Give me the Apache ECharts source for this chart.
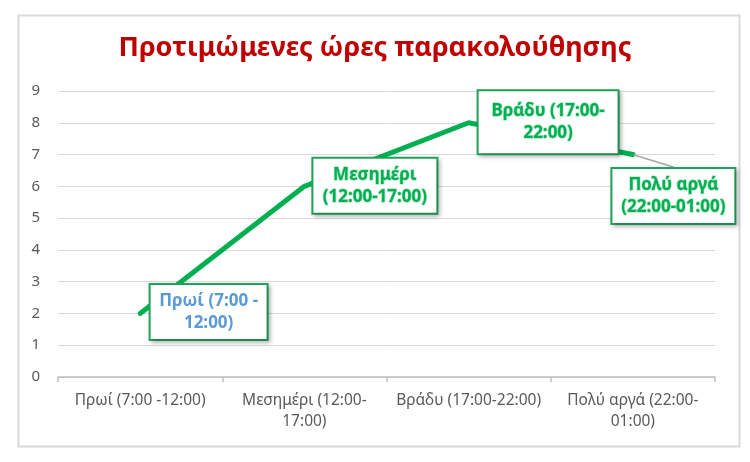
<!DOCTYPE html>
<html>
<head>
<meta charset="utf-8">
<script src="https://cdn.jsdelivr.net/npm/echarts@6/dist/echarts.min.js"></script>
<style>html,body{margin:0;padding:0;background:#fff;}#c{width:750px;height:462px;}</style>
</head>
<body>
<div id="c"></div>
<script>
const titleText = 'Προτιμώμενες ώρες παρακολούθησης';
const categories = ['Πρωί (7:00 -12:00)', 'Μεσημέρι (12:00-\n17:00)', 'Βράδυ (17:00-22:00)', 'Πολύ αργά (22:00-\n01:00)'];
const pointLabels = ['Πρωί (7:00 -\n12:00)', 'Μεσημέρι\n(12:00-17:00)', 'Βράδυ (17:00-\n22:00)', 'Πολύ αργά\n(22:00-01:00)'];
const values = [2, 6, 8, 7];
const yTicks = { min: 0, max: 9, interval: 1 };

const green = '#00B050';
const font = '"Noto Sans", "Open Sans", sans-serif';

const chart = echarts.init(document.getElementById('c'), null, { renderer: 'canvas' });

const labelBase = {
  show: true,
  fontFamily: font,
  fontSize: 17,
  fontWeight: 'bold',
  lineHeight: 22,
  align: 'center',
  verticalAlign: 'middle',
  color: green,
  textBorderColor: 'rgba(0,176,80,0.3)',
  textBorderWidth: 1.5,
  backgroundColor: '#ffffff',
  borderColor: '#20A45A',
  borderWidth: 2,
  padding: [5, 6, 5, 6],
  shadowColor: 'rgba(0,0,0,0.22)',
  shadowBlur: 4,
  shadowOffsetX: 2,
  shadowOffsetY: 2,
  formatter: p => pointLabels[p.dataIndex]
};

// label placement (offset of the callout from its point)
const labelOpts = [
  { position: [69, -1], width: 104, color: '#5B9BD5', textBorderWidth: 0 },
  { position: [71, 0], width: 111 },
  { position: [80, 0], width: 127, padding: [9, 6, 9, 6] },
  { position: [0, 0], width: 110 }
];

const seriesData = values.map((v, i) => ({
  value: v,
  label: labelOpts[i],
  labelLine: { show: i === 3 }
}));

chart.setOption({
  animation: false,
  backgroundColor: '#fff',
  graphic: [{
    type: 'rect',
    left: 16, top: 13,
    shape: { width: 721, height: 431 },
    style: { fill: 'none', stroke: '#D9D9D9', lineWidth: 2 },
    silent: true
  }],
  title: {
    text: titleText,
    left: 'center',
    top: 30,
    textStyle: { fontFamily: font, fontSize: 27, fontWeight: 'bold', color: '#C00000' }
  },
  grid: { left: 58, right: 35, top: 91, bottom: 85 },
  xAxis: {
    type: 'category',
    data: categories,
    boundaryGap: true,
    axisLine: { lineStyle: { color: '#BFBFBF', width: 1.5 } },
    axisTick: { show: true, length: 5, lineStyle: { color: '#BFBFBF', width: 1.5 } },
    axisLabel: { fontFamily: font, fontSize: 15.5, color: '#595959', margin: 13, lineHeight: 21, interval: 0 }
  },
  yAxis: {
    type: 'value',
    min: yTicks.min, max: yTicks.max, interval: yTicks.interval,
    axisLine: { show: false },
    axisTick: { show: false },
    splitLine: { lineStyle: { color: '#D9D9D9', width: 1 } },
    axisLabel: { fontFamily: font, fontSize: 15, color: '#595959', margin: 18 }
  },
  series: [{
    type: 'line',
    data: seriesData,
    symbol: 'circle',
    symbolSize: 1,
    itemStyle: { color: green, borderWidth: 0 },
    lineStyle: { color: green, width: 5, cap: 'round', join: 'round' },
    label: labelBase,
    labelLine: { show: false, lineStyle: { color: '#A6A6A6', width: 1.5 } },
    labelLayout: function (params) {
      if (params.dataIndex === 3) {
        return { dx: 41, dy: 42 };
      }
      return {};
    },
    z: 3
  }]
});
</script>
</body>
</html>
